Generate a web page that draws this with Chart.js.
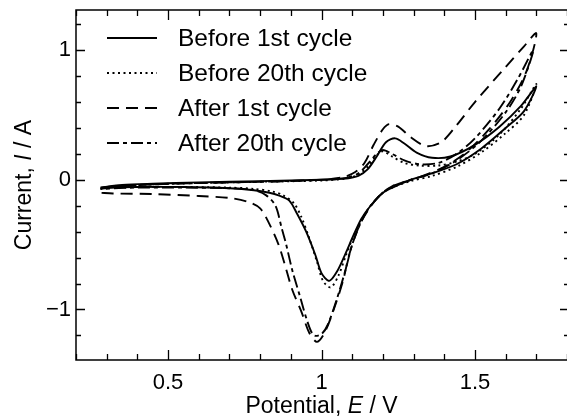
<!DOCTYPE html>
<html>
<head>
<meta charset="utf-8">
<script src="https://cdn.jsdelivr.net/npm/chart.js@4.4.1/dist/chart.umd.min.js"></script>
<style>
  html, body { margin: 0; padding: 0; background: #fff; }
  #cv { display: block; }
</style>
</head>
<body>
<canvas id="cv" width="567" height="419"></canvas>
<script>
// Cyclic voltammograms — potential E (V) vs current I (A)
// each curve: forward sweep 0.28 -> 1.70 V, then back to 0.28 V

const legendLabels = ['Before 1st cycle', 'Before 20th cycle', 'After 1st cycle', 'After 20th cycle'];

const before1E = [0.28, 0.35, 0.45, 0.6, 0.8, 1.0, 1.08, 1.12, 1.15, 1.18, 1.21, 1.24, 1.27, 1.31, 1.36, 1.42, 1.5, 1.58, 1.65, 1.70,
  1.66, 1.60, 1.52, 1.44, 1.36, 1.29, 1.24, 1.20, 1.16, 1.13, 1.10, 1.08, 1.05, 1.025, 1.0, 0.98, 0.95, 0.92, 0.895, 0.86, 0.83, 0.78, 0.7, 0.55, 0.4, 0.28];
const before1I = [-0.06, -0.04, -0.03, -0.02, -0.01, 0.0, 0.01, 0.03, 0.08, 0.18, 0.29, 0.32, 0.28, 0.21, 0.17, 0.18, 0.27, 0.41, 0.57, 0.72,
  0.53, 0.40, 0.24, 0.12, 0.05, 0.0, -0.05, -0.10, -0.20, -0.30, -0.45, -0.56, -0.71, -0.78, -0.72, -0.58, -0.40, -0.26, -0.16, -0.12, -0.10, -0.08, -0.065, -0.055, -0.055, -0.06];

const before20E = [0.28, 0.35, 0.45, 0.6, 0.8, 1.0, 1.08, 1.12, 1.15, 1.18, 1.20, 1.23, 1.27, 1.32, 1.38, 1.44, 1.5, 1.58, 1.65, 1.70,
  1.66, 1.60, 1.52, 1.44, 1.36, 1.29, 1.24, 1.20, 1.16, 1.13, 1.10, 1.08, 1.055, 1.03, 1.005, 0.985, 0.96, 0.935, 0.91, 0.875, 0.84, 0.78, 0.7, 0.55, 0.4, 0.28];
const before20I = [-0.07, -0.05, -0.035, -0.025, -0.015, -0.005, 0.01, 0.04, 0.10, 0.19, 0.22, 0.18, 0.13, 0.11, 0.11, 0.14, 0.20, 0.35, 0.55, 0.74,
  0.50, 0.36, 0.21, 0.10, 0.03, -0.01, -0.05, -0.10, -0.20, -0.31, -0.46, -0.58, -0.74, -0.83, -0.78, -0.63, -0.45, -0.29, -0.18, -0.12, -0.09, -0.07, -0.06, -0.055, -0.055, -0.065];

const after1E = [0.28, 0.35, 0.45, 0.6, 0.8, 1.0, 1.07, 1.11, 1.14, 1.17, 1.20, 1.22, 1.25, 1.29, 1.34, 1.39, 1.44, 1.5, 1.6, 1.66, 1.70,
  1.67, 1.62, 1.55, 1.47, 1.40, 1.33, 1.28, 1.23, 1.19, 1.15, 1.12, 1.09, 1.07, 1.04, 1.01, 0.985, 0.96, 0.935, 0.905, 0.88, 0.86, 0.83, 0.80, 0.76, 0.7, 0.6, 0.45, 0.32, 0.28];
const after1I = [-0.07, -0.05, -0.035, -0.025, -0.015, 0.0, 0.02, 0.06, 0.13, 0.27, 0.39, 0.43, 0.41, 0.33, 0.26, 0.29, 0.42, 0.60, 0.87, 1.03, 1.13,
  0.85, 0.62, 0.40, 0.21, 0.10, 0.03, -0.01, -0.05, -0.12, -0.24, -0.37, -0.58, -0.78, -1.00, -1.18, -1.25, -1.18, -1.02, -0.85, -0.65, -0.50, -0.34, -0.22, -0.17, -0.14, -0.125, -0.11, -0.105, -0.10];

const after20E = [0.28, 0.35, 0.45, 0.6, 0.8, 1.0, 1.08, 1.12, 1.15, 1.18, 1.20, 1.23, 1.27, 1.32, 1.38, 1.44, 1.5, 1.58, 1.64, 1.69,
  1.65, 1.60, 1.52, 1.44, 1.36, 1.29, 1.24, 1.20, 1.16, 1.13, 1.10, 1.08, 1.05, 1.02, 1.0, 0.975, 0.955, 0.93, 0.905, 0.885, 0.87, 0.85, 0.82, 0.78, 0.7, 0.55, 0.4, 0.28];
const after20I = [-0.06, -0.045, -0.035, -0.025, -0.015, 0.0, 0.015, 0.05, 0.12, 0.20, 0.23, 0.20, 0.15, 0.12, 0.13, 0.20, 0.32, 0.55, 0.78, 1.00,
  0.72, 0.52, 0.30, 0.15, 0.05, 0.0, -0.04, -0.10, -0.20, -0.32, -0.50, -0.68, -0.92, -1.12, -1.19, -1.20, -1.10, -0.90, -0.70, -0.50, -0.37, -0.20, -0.12, -0.08, -0.065, -0.06, -0.06, -0.07];

const xTickValues = [0.5, 1, 1.5];
const xTickLabels = ['0.5', '1', '1.5'];
const yTickValues = [-1, 0, 1];
const yTickLabels = ['\u22121', '0', '1'];

const FONT = "'Liberation Sans', Arial, sans-serif";
const dashes = [[], [2, 3.5], [12, 7], [12, 4, 4, 4]];

function points(E, I) {
  return E.map((e, i) => ({ x: e, y: I[i] }));
}

function tickLabel(values, labels, v) {
  const idx = values.findIndex(t => Math.abs(t - v) < 1e-6);
  return idx >= 0 ? labels[idx] : '';
}

// frame, inward ticks, legend and axis titles
const decorations = {
  id: 'decorations',
  afterDraw(chart) {
    const { ctx, chartArea, scales } = chart;
    const { left, right, top, bottom } = chartArea;
    ctx.save();
    ctx.strokeStyle = '#000';
    ctx.lineWidth = 1.5;
    ctx.beginPath();
    ctx.moveTo(right, top);
    ctx.lineTo(left, top);
    ctx.lineTo(left, bottom);
    ctx.lineTo(right, bottom);
    ctx.stroke();

    ctx.lineWidth = 1.3;
    ctx.beginPath();
    for (let i = 2; i <= 18; i++) {
      const px = Math.round(scales.x.getPixelForValue(i / 10)) + 0.5;
      const len = i % 5 === 0 ? 10 : 6;
      ctx.moveTo(px, bottom); ctx.lineTo(px, bottom - len);
      ctx.moveTo(px, top); ctx.lineTo(px, top + len);
    }
    for (let i = -6; i <= 6; i++) {
      const py = Math.round(scales.y.getPixelForValue(i / 5)) + 0.5;
      const len = i % 5 === 0 ? 9 : 5;
      ctx.moveTo(left, py); ctx.lineTo(left + len, py);
      ctx.moveTo(right + 2, py); ctx.lineTo(right + 2 - len, py);
    }
    ctx.stroke();

    // legend
    ctx.fillStyle = '#000';
    ctx.font = '24.5px ' + FONT;
    ctx.textBaseline = 'middle';
    legendLabels.forEach((label, i) => {
      const y = 38 + i * 35;
      ctx.lineWidth = 2;
      ctx.setLineDash(dashes[i]);
      ctx.beginPath();
      ctx.moveTo(107, y);
      ctx.lineTo(157, y);
      ctx.stroke();
      ctx.setLineDash([]);
      ctx.fillText(label, 178, y + 1);
    });

    // axis titles with italic symbols
    const drawTitle = (parts, cx, cy, rot) => {
      ctx.save();
      ctx.translate(cx, cy);
      ctx.rotate(rot);
      let total = 0;
      parts.forEach(p => {
        ctx.font = (p.italic ? 'italic ' : '') + '23px ' + FONT;
        p.w = ctx.measureText(p.t).width;
        total += p.w;
      });
      let x = -total / 2;
      ctx.textAlign = 'left';
      ctx.textBaseline = 'middle';
      parts.forEach(p => {
        ctx.font = (p.italic ? 'italic ' : '') + '23px ' + FONT;
        ctx.fillText(p.t, x, 0);
        x += p.w;
      });
      ctx.restore();
    };
    drawTitle([{ t: 'Current, ' }, { t: 'I', italic: true }, { t: ' / A' }], 25, (top + bottom) / 2, -Math.PI / 2);
    drawTitle([{ t: 'Potential, ' }, { t: 'E', italic: true }, { t: ' / V' }], (left + right) / 2, 407, 0);
    ctx.restore();
  }
};

const curves = [
  [before1E, before1I],
  [before20E, before20I],
  [after1E, after1I],
  [after20E, after20I],
];

new Chart(document.getElementById('cv'), {
  type: 'scatter',
  data: {
    datasets: curves.map((c, i) => ({
      label: legendLabels[i],
      data: points(c[0], c[1]),
      showLine: true,
      borderColor: '#000',
      borderWidth: 1.9,
      borderDash: dashes[i],
      pointRadius: 0,
      tension: 0.3,
      fill: false,
    })),
  },
  options: {
    responsive: false,
    animation: false,
    devicePixelRatio: 1,
    layout: { padding: { top: 10, right: 0, left: 0, bottom: 0 } },
    plugins: {
      legend: { display: false },
      tooltip: { enabled: false },
    },
    scales: {
      x: {
        type: 'linear',
        min: 0.2,
        max: 1.8,
        grid: { display: false, drawTicks: false },
        border: { display: false },
        ticks: {
          stepSize: 0.1,
          autoSkip: false,
          maxRotation: 0,
          padding: 10,
          color: '#000',
          font: { family: FONT, size: 22 },
          callback: v => tickLabel(xTickValues, xTickLabels, v),
        },
        afterFit(scale) {
          scale.height = 59;
          scale.paddingLeft = 0;
          scale.paddingRight = 0;
        },
      },
      y: {
        min: -1.39,
        max: 1.31,
        grid: { display: false, drawTicks: false },
        border: { display: false },
        ticks: {
          stepSize: 0.2,
          autoSkip: false,
          padding: 5,
          color: '#000',
          font: { family: FONT, size: 22 },
          callback: v => tickLabel(yTickValues, yTickLabels, v),
        },
        afterFit(scale) {
          scale.width = 76;
          scale.paddingTop = 0;
          scale.paddingBottom = 0;
        },
      },
    },
  },
  plugins: [decorations],
});
</script>
</body>
</html>
